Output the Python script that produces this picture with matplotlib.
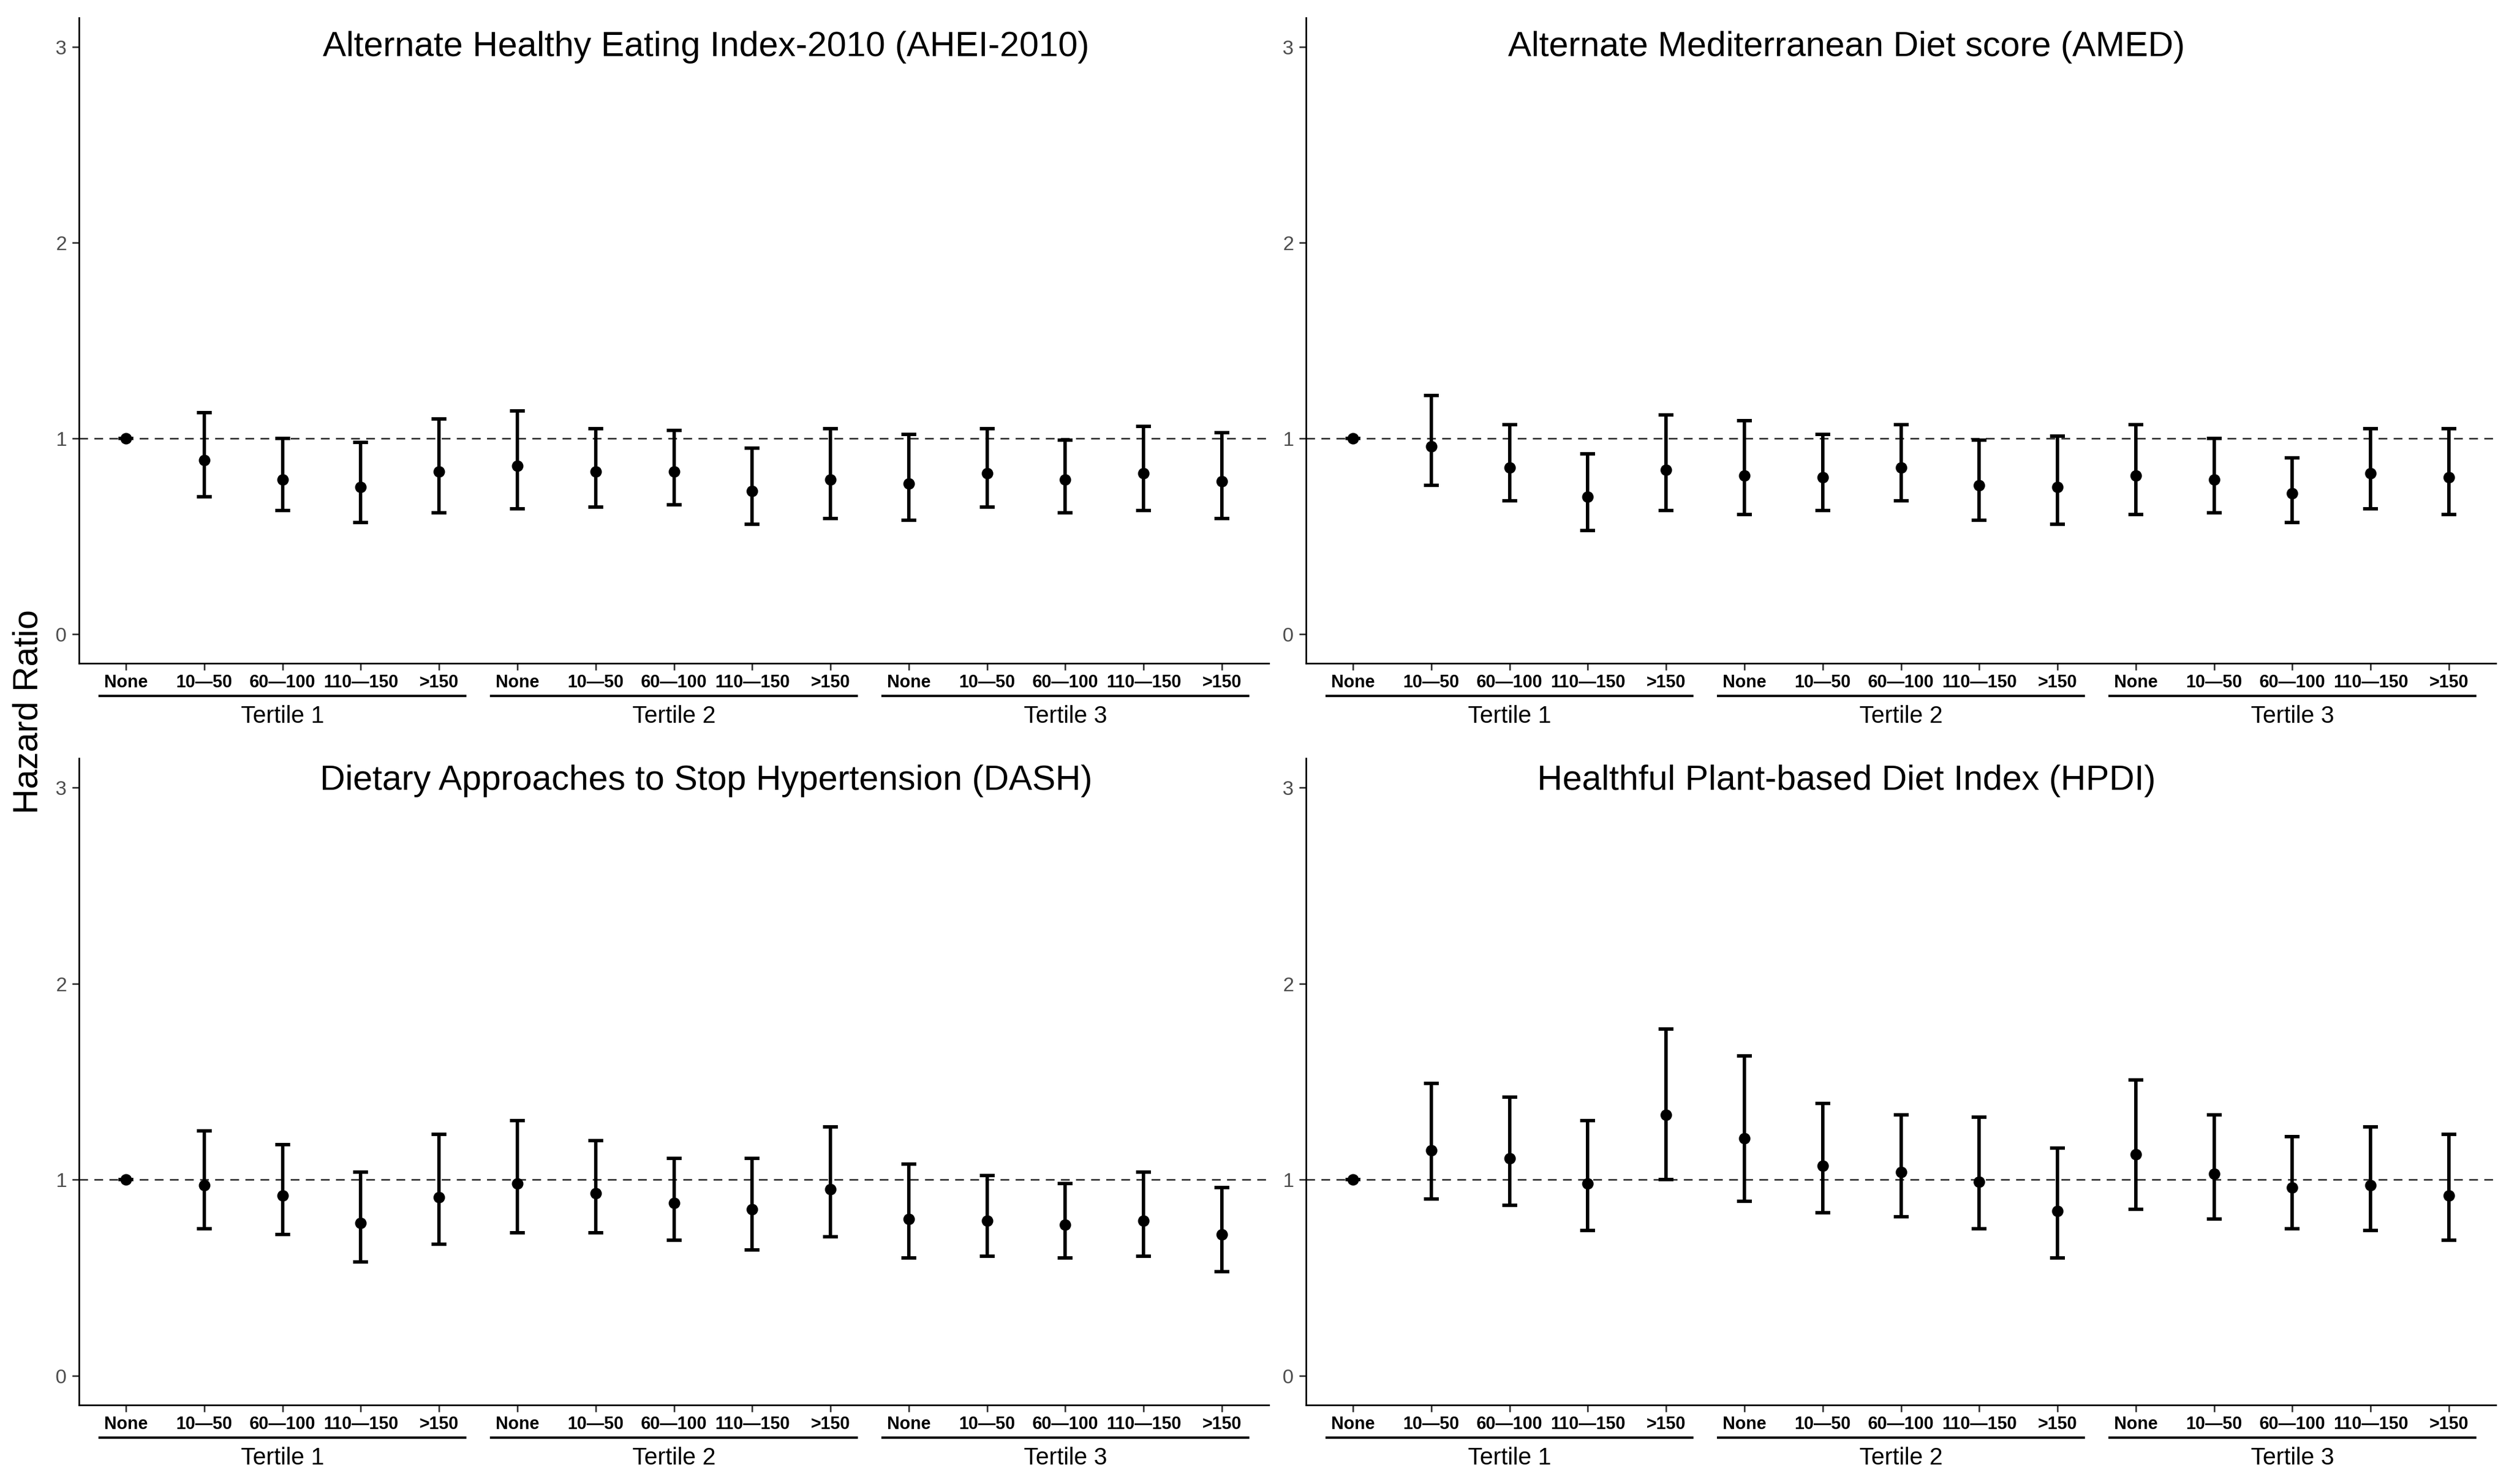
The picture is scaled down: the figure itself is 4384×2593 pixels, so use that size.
import matplotlib
matplotlib.use('Agg')
import matplotlib.pyplot as plt
import numpy as np

plt.rcParams['font.family'] = ['Liberation Sans', 'DejaVu Sans']

# 类别：三分位 × 剂量组
dose_labels = ['None', '10—50', '60—100', '110—150', '>150']
tertiles = ['Tertile 1', 'Tertile 2', 'Tertile 3']

titles = [
    'Alternate Healthy Eating Index-2010 (AHEI-2010)',
    'Alternate Mediterranean Diet score (AMED)',
    'Dietary Approaches to Stop Hypertension (DASH)',
    'Healthful Plant-based Diet Index (HPDI)',
]

# AHEI-2010
ahei_hr = [1.00, 0.89, 0.79, 0.75, 0.83, 0.86, 0.83, 0.83, 0.73, 0.79, 0.77, 0.82, 0.79, 0.82, 0.78]
ahei_lo = [1.00, 0.70, 0.63, 0.57, 0.62, 0.64, 0.65, 0.66, 0.56, 0.59, 0.58, 0.65, 0.62, 0.63, 0.59]
ahei_hi = [1.00, 1.13, 1.00, 0.98, 1.10, 1.14, 1.05, 1.04, 0.95, 1.05, 1.02, 1.05, 0.99, 1.06, 1.03]

# AMED
amed_hr = [1.00, 0.96, 0.85, 0.70, 0.84, 0.81, 0.80, 0.85, 0.76, 0.75, 0.81, 0.79, 0.72, 0.82, 0.80]
amed_lo = [1.00, 0.76, 0.68, 0.53, 0.63, 0.61, 0.63, 0.68, 0.58, 0.56, 0.61, 0.62, 0.57, 0.64, 0.61]
amed_hi = [1.00, 1.22, 1.07, 0.92, 1.12, 1.09, 1.02, 1.07, 0.99, 1.01, 1.07, 1.00, 0.90, 1.05, 1.05]

# DASH
dash_hr = [1.00, 0.97, 0.92, 0.78, 0.91, 0.98, 0.93, 0.88, 0.85, 0.95, 0.80, 0.79, 0.77, 0.79, 0.72]
dash_lo = [1.00, 0.75, 0.72, 0.58, 0.67, 0.73, 0.73, 0.69, 0.64, 0.71, 0.60, 0.61, 0.60, 0.61, 0.53]
dash_hi = [1.00, 1.25, 1.18, 1.04, 1.23, 1.30, 1.20, 1.11, 1.11, 1.27, 1.08, 1.02, 0.98, 1.04, 0.96]

# HPDI
hpdi_hr = [1.00, 1.15, 1.11, 0.98, 1.33, 1.21, 1.07, 1.04, 0.99, 0.84, 1.13, 1.03, 0.96, 0.97, 0.92]
hpdi_lo = [1.00, 0.90, 0.87, 0.74, 1.00, 0.89, 0.83, 0.81, 0.75, 0.60, 0.85, 0.80, 0.75, 0.74, 0.69]
hpdi_hi = [1.00, 1.49, 1.42, 1.30, 1.77, 1.63, 1.39, 1.33, 1.32, 1.16, 1.51, 1.33, 1.22, 1.27, 1.23]

panels = [
    (ahei_hr, ahei_lo, ahei_hi),
    (amed_hr, amed_lo, amed_hi),
    (dash_hr, dash_lo, dash_hi),
    (hpdi_hr, hpdi_lo, hpdi_hi),
]

W, H = 4384, 2593
fig = plt.figure(figsize=(W / 100, H / 100), dpi=100)

# 面板位置（像素 -> 比例）
ax_rects = [
    [138 / W, 1 - 1159 / H, 2079 / W, 1128 / H],
    [2282 / W, 1 - 1159 / H, 2079 / W, 1128 / H],
    [138 / W, 1 - 2455 / H, 2079 / W, 1130 / H],
    [2282 / W, 1 - 2455 / H, 2079 / W, 1130 / H],
]
title_xfrac = [0.527, 0.454, 0.527, 0.454]
title_y = [2.955, 2.955, 2.99, 2.99]

n_dose = len(dose_labels)
x = np.arange(1, n_dose * len(tertiles) + 1)
tick_labels = dose_labels * len(tertiles)

for i, (hr, lo, hi) in enumerate(panels):
    ax = fig.add_axes(ax_rects[i])
    hr = np.array(hr)
    lo = np.array(lo)
    hi = np.array(hi)

    ax.axhline(1, color='#333333', lw=2, linestyle=(0, (5.5, 4)), zorder=1)
    ax.errorbar(x, hr, yerr=[hr - lo, hi - hr], fmt='o', color='black',
                ms=13.5, elinewidth=4.3, capsize=9.7, capthick=4.3, zorder=3)

    ax.set_xlim(0.4, len(x) + 0.6)
    ax.set_ylim(-0.15, 3.15)
    ax.set_yticks([0, 1, 2, 3])
    ax.set_xticks(x)
    ax.set_xticklabels(tick_labels, fontsize=22, fontweight='bold')
    ax.tick_params(axis='y', labelsize=25, labelcolor='#4D4D4D', length=8.6,
                   width=2, color='#333333', pad=7)
    ax.tick_params(axis='x', length=8.6, width=2, color='#333333', pad=5)

    for s in ['top', 'right']:
        ax.spines[s].set_visible(False)
    for s in ['left', 'bottom']:
        ax.spines[s].set_linewidth(2)
        ax.spines[s].set_color('black')

    ax.text(title_xfrac[i], title_y[i], titles[i], transform=ax.get_yaxis_transform(),
            ha='center', va='baseline', fontsize=44)

    # 三分位分组下划线 + 标签
    trans = ax.get_xaxis_transform()
    h_ax = ax_rects[i][3] * H
    for k, t in enumerate(tertiles):
        x0 = k * n_dose + 1 - 0.35
        x1 = (k + 1) * n_dose + 0.35
        ax.plot([x0, x1], [-57 / h_ax, -57 / h_ax], color='black', lw=3,
                transform=trans, clip_on=False, solid_capstyle='butt')
        ax.text(k * n_dose + 3, -93 / h_ax, t, transform=trans, ha='center',
                va='center', fontsize=30)

fig.text(50 / W, 1 - 1244 / H, 'Hazard Ratio', rotation=90, ha='center',
         va='center', fontsize=44)

plt.savefig('out.png', dpi=100)
plt.close()
